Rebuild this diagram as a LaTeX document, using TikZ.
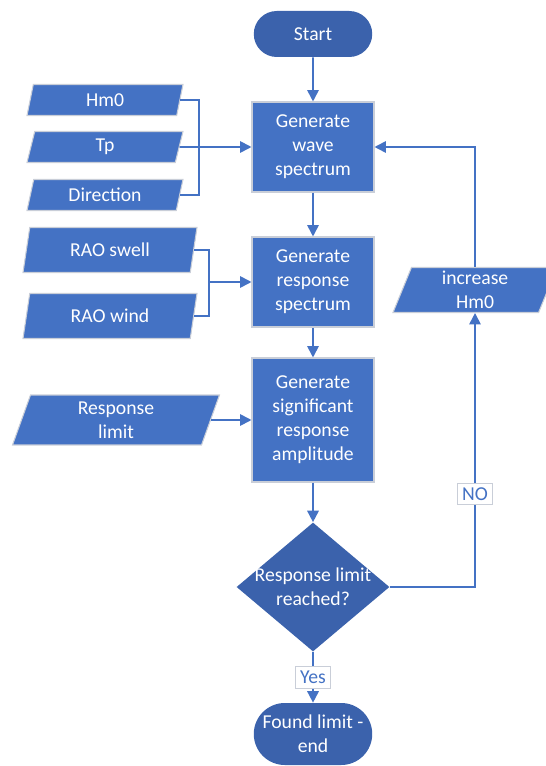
\documentclass[tikz,border=0pt]{standalone}
\usepackage{fontspec}
\setmainfont{Carlito}
\usetikzlibrary{arrows.meta,shapes.geometric,shapes.misc}
\definecolor{flowblue}{HTML}{4472C4}
\definecolor{flowdark}{HTML}{3B62AC}
\definecolor{edgegrey}{HTML}{C9CED8}

\begin{document}
\begin{tikzpicture}[x=0.02cm,y=-0.02cm,>={Triangle[length=6.5pt,width=6.5pt]},
  every node/.style={font=\fontsize{11.2}{13.7}\selectfont,text=white,align=center},
  term/.style={rounded rectangle,fill=flowdark,minimum width=2.44cm,minimum height=0.92cm,inner sep=1pt},
  proc/.style={rectangle,fill=flowblue,draw=edgegrey,line width=0.6pt,minimum width=2.44cm,minimum height=1.8cm},
  io/.style={trapezium,trapezium left angle=64,trapezium right angle=116,trapezium stretches body,
    fill=flowblue,draw=edgegrey,line width=0.6pt,inner sep=0pt},
  decide/.style={diamond,fill=flowdark,minimum width=3.06cm,minimum height=2.58cm,inner sep=0pt},
  lab/.style={fill=white,draw=edgegrey,line width=0.4pt,text=flowblue,inner sep=2.5pt},
  link/.style={draw=flowblue,line width=1pt}]
  \useasboundingbox (0,0) rectangle (545,766);

  % main column
  \node[term] (start) at (313,34) {Start};
  \node[proc] (wave) at (313,147) {Generate\\wave\\spectrum};
  \node[proc] (resp) at (313,282) {Generate\\response\\spectrum};
  \node[proc,minimum height=2.48cm] (amp) at (313,420) {Generate\\significant\\response\\amplitude};
  \node[decide,label=center:{Response limit\\reached?}] (check) at (313,587) {};
  \node[term,minimum height=1.24cm] (stop) at (313,734) {Found limit -\\end};

  % inputs
  \node[io,minimum width=3.12cm,minimum height=0.62cm] (hm) at (105,100) {Hm0};
  \node[io,minimum width=3.12cm,minimum height=0.62cm] (tp) at (105,147) {Tp};
  \node[io,minimum width=3.12cm,minimum height=0.62cm] (dir) at (105,195) {Direction};
  \node[io,minimum width=3.48cm,minimum height=0.9cm] (swell) at (110,250) {RAO swell};
  \node[io,minimum width=3.48cm,minimum height=0.9cm] (wind) at (110,316) {RAO wind};
  \node[io,minimum width=4.14cm,minimum height=1.0cm] (lim) at (116,420) {Response\\limit};
  \node[io,minimum width=3.28cm,minimum height=0.9cm] (inc) at (475,290) {increase\\Hm0};

  \coordinate (joinA) at (199,147);
  \coordinate (joinB) at (209,282);

  % connectors
  \draw[link,->] (start) -- (wave);
  \draw[link,->] (wave) -- (resp);
  \draw[link,->] (resp) -- (amp);
  \draw[link,->] (amp) -- (check);
  \draw[link,->] (check) -- node[lab] {Yes} (stop);
  \draw[link,->] (check.east) -| node[lab,pos=0.67] {NO} (inc.south);
  \draw[link,->] (inc.north) |- (wave.east);
  \draw[link] (hm.east) -| (joinA);
  \draw[link] (dir.east) -| (joinA);
  \draw[link,->] (tp.east) -- (wave.west);
  \draw[link] (swell.east) -| (joinB);
  \draw[link] (wind.east) -| (joinB);
  \draw[link,->] (joinB) -- (resp.west);
  \draw[link,->] (lim.east) -- (amp.west);
\end{tikzpicture}
\end{document}
